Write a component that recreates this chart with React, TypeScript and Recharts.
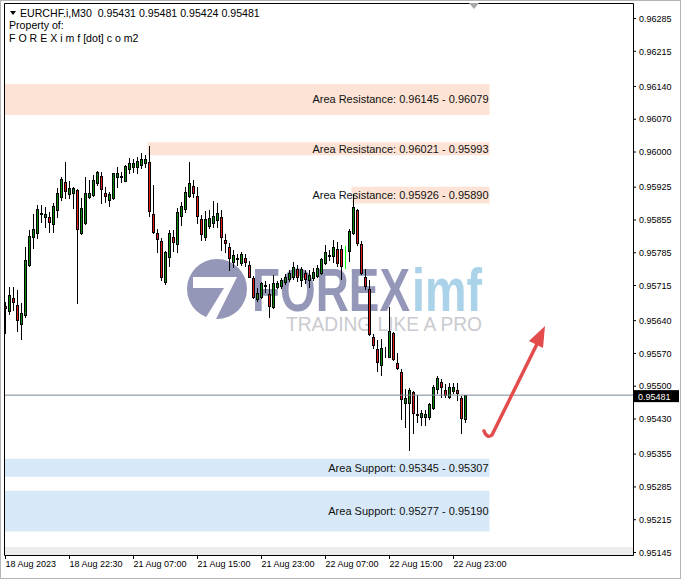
import React from "react";
import { Bar, ComposedChart, ReferenceArea, ReferenceLine, XAxis, YAxis } from "recharts";

const W = 681;
const H = 579;
const FONT = '"Liberation Sans", Arial, sans-serif';

// M30 candles, oldest first
const opens = [
  0.95671, 0.95661, 0.95688, 0.95673, 0.95633, 0.95652, 0.95759, 0.95819, 0.95827, 0.95868,
  0.95861, 0.95861, 0.95846, 0.95876, 0.95904, 0.95936, 0.9591, 0.95912, 0.95919, 0.95827,
  0.95848, 0.95904, 0.95908, 0.95934, 0.95949, 0.95912, 0.95898, 0.95902, 0.95947, 0.95947,
  0.95938, 0.95964, 0.95968, 0.95968, 0.95972, 0.95977, 0.95979, 0.95868, 0.95827, 0.9581,
  0.95722, 0.95776, 0.95819, 0.95804, 0.95863, 0.95878, 0.95906, 0.95927, 0.95906, 0.95857,
  0.95819, 0.95842, 0.95848, 0.95855, 0.95861, 0.95812, 0.95797, 0.95765, 0.95774, 0.95763,
  0.95774, 0.95759, 0.95731, 0.95686, 0.9569, 0.95714, 0.95697, 0.95669, 0.95712, 0.95714,
  0.95722, 0.95729, 0.95733, 0.9575, 0.95727, 0.95742, 0.95727, 0.95731, 0.95735, 0.95742,
  0.95763, 0.95778, 0.95778, 0.95793, 0.95793, 0.95791, 0.95789, 0.95827, 0.95876, 0.95804,
  0.95733, 0.95708, 0.95605, 0.95579, 0.95545, 0.95575, 0.95562, 0.95614, 0.9555, 0.9553,
  0.95464, 0.95464, 0.95488, 0.95441, 0.95434, 0.95434, 0.95434, 0.95453, 0.95494, 0.95509,
  0.95492, 0.95477, 0.9549, 0.95492, 0.95475, 0.95431,
];
const highs = [
  0.9568, 0.95712, 0.95712, 0.95705, 0.95678, 0.95797, 0.95833, 0.95868, 0.95887, 0.95887,
  0.95883, 0.95872, 0.95891, 0.95923, 0.95947, 0.95979, 0.95938, 0.95925, 0.95921, 0.95902,
  0.95947, 0.9594, 0.95951, 0.95959, 0.95957, 0.95925, 0.95915, 0.95955, 0.95968, 0.95957,
  0.95972, 0.95987, 0.95985, 0.95989, 0.95998, 0.95994, 0.96013, 0.9593, 0.95836, 0.95816,
  0.95789, 0.95833, 0.95833, 0.9588, 0.95893, 0.95925, 0.95979, 0.9594, 0.95925, 0.95865,
  0.95874, 0.95876, 0.95895, 0.95891, 0.95876, 0.95825, 0.95806, 0.95791, 0.95782, 0.95787,
  0.95782, 0.95767, 0.95735, 0.9571, 0.95722, 0.95725, 0.95718, 0.95737, 0.95725, 0.95731,
  0.9574, 0.95748, 0.95765, 0.95759, 0.95754, 0.95748, 0.95748, 0.95752, 0.95759, 0.95774,
  0.95801, 0.95791, 0.95812, 0.95808, 0.95801, 0.95799, 0.95836, 0.9591, 0.95878, 0.9581,
  0.9575, 0.95727, 0.95611, 0.95599, 0.95601, 0.95584, 0.95669, 0.95616, 0.95571, 0.95537,
  0.95494, 0.95496, 0.9549, 0.95481, 0.95449, 0.95449, 0.95464, 0.95503, 0.95522, 0.95515,
  0.95505, 0.95507, 0.95507, 0.95507, 0.95479, 0.95481,
];
const lows = [
  0.95614, 0.95654, 0.95663, 0.95618, 0.95601, 0.95648, 0.95757, 0.95795, 0.95816, 0.95851,
  0.9584, 0.95829, 0.95829, 0.95861, 0.95898, 0.95902, 0.95902, 0.9588, 0.95678, 0.95825,
  0.95846, 0.95902, 0.95906, 0.9593, 0.95891, 0.95893, 0.95885, 0.959, 0.95925, 0.95936,
  0.95938, 0.95955, 0.95957, 0.95955, 0.95966, 0.95968, 0.95863, 0.95827, 0.95787, 0.95727,
  0.95718, 0.95757, 0.95789, 0.95787, 0.95844, 0.95872, 0.95904, 0.95904, 0.95848, 0.95812,
  0.95812, 0.95838, 0.9584, 0.9584, 0.95791, 0.95787, 0.95748, 0.95754, 0.95759, 0.95759,
  0.95757, 0.95733, 0.95688, 0.95682, 0.95688, 0.95701, 0.95648, 0.95667, 0.9571, 0.9571,
  0.95718, 0.95725, 0.95729, 0.95725, 0.95714, 0.9572, 0.95712, 0.95727, 0.95733, 0.9574,
  0.95761, 0.95769, 0.95765, 0.95757, 0.95729, 0.95752, 0.95767, 0.95825, 0.95801, 0.9574,
  0.95708, 0.95609, 0.95582, 0.95532, 0.95524, 0.95562, 0.95562, 0.95556, 0.95537, 0.9543,
  0.95413, 0.95364, 0.954, 0.95424, 0.95417, 0.95417, 0.9543, 0.95451, 0.95485, 0.95477,
  0.95477, 0.95475, 0.95485, 0.95471, 0.954, 0.95424,
];
const closes = [
  0.95667, 0.95695, 0.9568, 0.95641, 0.95656, 0.95769, 0.95821, 0.95836, 0.95878, 0.9587,
  0.95868, 0.95851, 0.95885, 0.95912, 0.95942, 0.95917, 0.95923, 0.95923, 0.95836, 0.9588,
  0.95912, 0.95912, 0.9594, 0.95957, 0.95921, 0.95906, 0.9591, 0.95955, 0.95955, 0.95949,
  0.9597, 0.95977, 0.95977, 0.95981, 0.95985, 0.95985, 0.95874, 0.95829, 0.95814, 0.95733,
  0.95787, 0.95827, 0.95808, 0.95872, 0.95885, 0.95915, 0.95934, 0.95912, 0.95863, 0.95825,
  0.95857, 0.95859, 0.95863, 0.9587, 0.95819, 0.95806, 0.95774, 0.9578, 0.95772, 0.95782,
  0.95765, 0.95733, 0.9569, 0.95699, 0.9572, 0.95716, 0.95671, 0.9572, 0.9572, 0.95727,
  0.95733, 0.95742, 0.95754, 0.95733, 0.9575, 0.95729, 0.95737, 0.95744, 0.95752, 0.95772,
  0.95787, 0.9578, 0.95797, 0.95763, 0.95757, 0.95791, 0.95831, 0.95883, 0.95806, 0.95742,
  0.95714, 0.95611, 0.95588, 0.95552, 0.95582, 0.95576, 0.95618, 0.95558, 0.95539, 0.95473,
  0.95475, 0.95492, 0.95443, 0.95438, 0.95443, 0.95441, 0.95462, 0.95498, 0.95517, 0.95498,
  0.95481, 0.95498, 0.95498, 0.95485, 0.95432, 0.95481,
];
const limeBar = 85;

const timeTickIdx = [0, 16, 32, 48, 64, 80, 96, 112];
const timeLabels = [
  "18 Aug 2023", "18 Aug 22:30", "21 Aug 07:00", "21 Aug 15:00",
  "21 Aug 23:00", "22 Aug 07:00", "22 Aug 15:00", "22 Aug 23:00",
];
const priceTicks = [
  0.96285, 0.96215, 0.9614, 0.9607, 0.96, 0.95925, 0.95855, 0.95785, 0.95715,
  0.9564, 0.9557, 0.955, 0.9543, 0.95355, 0.95285, 0.95215, 0.95145,
];

const zoneNames = ["Area Resistance", "Area Resistance", "Area Resistance", "Area Support", "Area Support"];
const zoneHigh = [0.96145, 0.96021, 0.95926, 0.95345, 0.95277];
const zoneLow = [0.96079, 0.95993, 0.9589, 0.95307, 0.9519];
const zoneStart = [-0.125, 35.5, 86.5, -0.125, -0.125];
const zoneEnd = 121;

const symbol = "EURCHF.i,M30";
const lastOhlc = [0.95431, 0.95481, 0.95424, 0.95481];
const lastPrice = 0.95481;

const X_MIN = -0.375;
const X_MAX = 156.875;
const Y_MIN = 0.951397;
const Y_MAX = 0.96316;

const BULL = "#0a8a0a";
const BEAR = "#e01b1b";
const LIME = "#00ff00";
const RES = "#fce3d5";
const SUP = "#d7e9f8";

const candles = opens.map((o, i) => ({
  i,
  o,
  h: highs[i],
  l: lows[i],
  c: closes[i],
  range: [lows[i], highs[i]],
}));

function Candle(props: any) {
  const { x, y, width, height, payload } = props;
  if (x == null || !payload) return null;
  const { o, h, l, c } = payload;
  const cx = Math.floor(x + width / 2) + 0.5;
  const k = h === l ? 0 : height / (h - l);
  const yO = y + (h - o) * k;
  const yC = y + (h - c) * k;
  const top = Math.round(Math.min(yO, yC)) + 0.5;
  const bot = Math.max(Math.round(Math.max(yO, yC)) + 0.5, top);
  const lime = payload.i === limeBar;
  const edge = lime ? LIME : "#000";
  const fill = lime ? LIME : c > o ? BULL : c < o ? BEAR : "#000";
  return (
    <g>
      <line x1={cx} x2={cx} y1={Math.round(y)} y2={Math.round(y + height) + 1} stroke={edge} />
      <rect x={cx - 1} y={top} width={2} height={bot - top} fill={fill} stroke={edge} />
    </g>
  );
}

function TimeTick(props: any) {
  const { x, y, payload } = props;
  const k = timeTickIdx.indexOf(payload.value);
  return (
    <text x={x} y={y + 6} textAnchor="start" fontSize={9} fill="#000" fontFamily={FONT}>
      {k >= 0 ? timeLabels[k] : ""}
    </text>
  );
}

function PriceTag(props: any) {
  const vb = props.viewBox;
  if (!vb) return null;
  const x = vb.x + vb.width;
  const y = vb.y;
  return (
    <g>
      <rect x={x} y={y - 5} width={46} height={12} fill="#000" />
      <text x={x + 5} y={y + 4.5} fill="#fff" fontSize={9} fontFamily={FONT}>
        {lastPrice.toFixed(5)}
      </text>
    </g>
  );
}

export default function App() {
  return (
    <div style={{ position: "absolute", left: 0, top: 0, width: W, height: H, background: "#fff", fontFamily: FONT }}>
      <svg width={W} height={H} style={{ position: "absolute", left: 0, top: 0 }}>
        <rect x={5} y={547} width={628} height={8} fill="#ededed" />
        {/* watermark */}
        <g opacity={0.95}>
          <circle cx={217} cy={289} r={30} fill="#8f92b5" />
          <polygon points="193,277 237,277 216,319 205,319 224,288 193,288" fill="#fff" />
          <text x={252} y={311} fontSize={62} fontWeight="bold" fill="#8f92b5" textLength={158} lengthAdjust="spacingAndGlyphs" fontFamily={FONT}>
            FOREX
          </text>
          <text x={412} y={311} fontSize={62} fontWeight="bold" fill="#a6d0e8" textLength={70} lengthAdjust="spacingAndGlyphs" fontFamily={FONT}>
            imf
          </text>
          <text x={286} y={331} fontSize={21} fill="#c8c8ce" textLength={196} lengthAdjust="spacingAndGlyphs" fontFamily={FONT}>
            TRADING LIKE A PRO
          </text>
        </g>
      </svg>
      <div style={{ position: "absolute", left: 0, top: 0 }}>
        <ComposedChart width={W} height={H} data={candles} margin={{ top: 4, right: 0, bottom: 0, left: 4 }}>
          <XAxis
            dataKey="i"
            type="number"
            domain={[X_MIN, X_MAX]}
            allowDataOverflow
            ticks={timeTickIdx}
            interval={0}
            height={24}
            axisLine={false}
            tickLine={{ stroke: "#000" }}
            tickSize={4}
            tick={(p: any) => <TimeTick {...p} />}
          />
          <YAxis
            orientation="right"
            type="number"
            width={48}
            domain={[Y_MIN, Y_MAX]}
            allowDataOverflow
            ticks={priceTicks}
            interval={0}
            axisLine={false}
            tickLine={{ stroke: "#000" }}
            tickSize={3}
            tickMargin={3}
            tickFormatter={(v: number) => v.toFixed(5)}
            tick={{ fontSize: 9, fill: "#000", fontFamily: FONT }}
          />
          {zoneHigh.map((hi, k) => (
            <ReferenceArea
              key={k}
              x1={zoneStart[k]}
              x2={zoneEnd}
              y1={zoneLow[k]}
              y2={hi}
              fill={k < 3 ? RES : SUP}
              fillOpacity={1}
              stroke="none"
              ifOverflow="visible"
              label={{
                value: `${zoneNames[k]}: ${hi.toFixed(5)} - ${zoneLow[k].toFixed(5)}`,
                position: "insideRight",
                offset: 1,
                fill: "#111",
                fontSize: 11,
                fontFamily: FONT,
              }}
            />
          ))}
          <ReferenceLine y={lastPrice} stroke="#7a8796" ifOverflow="visible" label={<PriceTag />} />
          <Bar dataKey="range" barSize={3} isAnimationActive={false} shape={(p: any) => <Candle {...p} />} />
        </ComposedChart>
      </div>
      <svg width={W} height={H} style={{ position: "absolute", left: 0, top: 0, pointerEvents: "none" }}>
        <rect x={0.5} y={0.5} width={W - 1} height={H - 1} fill="none" stroke="#b4b4b4" />
        <polyline points="4.5,555.5 4.5,3.5 633.5,3.5 633.5,555.5 4.5,555.5" fill="none" stroke="#000" />
        <polygon points="469,3 479,3 474,9" fill="#a8a8a8" />
        <polygon points="10,11 16,11 13,15" fill="#000" />
        <text x={20} y={17} fontSize={10.6} fill="#000" fontFamily={FONT} style={{ whiteSpace: "pre" }}>
          {`${symbol}  ${lastOhlc.map((v) => v.toFixed(5)).join(" ")}`}
        </text>
        <text x={9} y={29} fontSize={10.6} fill="#000" fontFamily={FONT}>
          Property of:
        </text>
        <text x={9} y={42} fontSize={10.6} fill="#000" fontFamily={FONT}>
          F O R E X i m f [dot] c o m2
        </text>
        {/* arrow */}
        <path d="M 484 431 Q 487 439 492 435 L 538 342" fill="none" stroke="#e24c4c" strokeWidth={3.5} strokeLinecap="round" />
        <polygon points="545,326 543,348 529,341" fill="#e24c4c" />
      </svg>
    </div>
  );
}
